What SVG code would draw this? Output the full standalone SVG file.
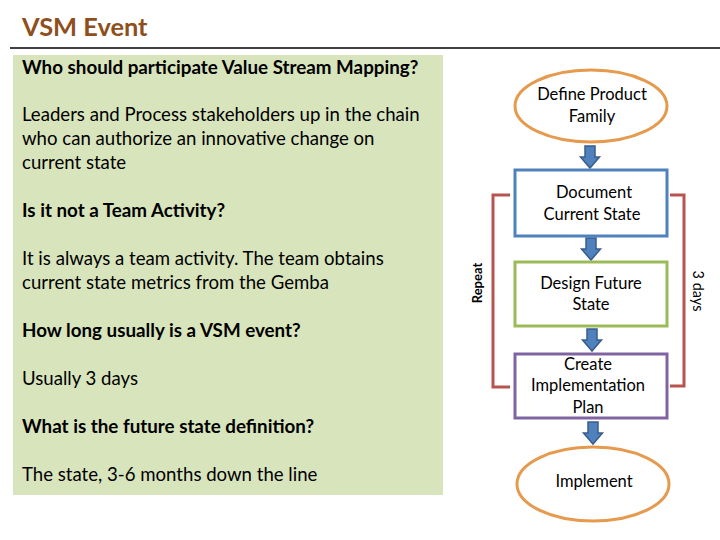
<svg xmlns="http://www.w3.org/2000/svg" width="720" height="540" viewBox="0 0 720 540">
<style>
text{font-family:Lato,"Open Sans","Liberation Sans",sans-serif;fill:#000}
.q{font-weight:bold;font-size:18.8px}
.a{font-size:18.6px}
.n{font-size:16.5px;text-anchor:middle}
.side{font-size:13px;font-weight:bold;text-anchor:middle}
.arr{fill:#4F81BD;stroke:#385D8A;stroke-width:1.5}
.br{fill:none;stroke:#B85450;stroke-width:3}
</style>
<defs>
<path id="ba" d="M-5,0 H5 V11 H9.5 L0,22 L-9.5,11 H-5 Z"/>
</defs>
<rect width="720" height="540" fill="#fff"/>
<text x="22" y="36" style="font-size:25.4px;font-weight:bold;fill:#8E4F1C">VSM Event</text>
<line x1="10" y1="48" x2="720" y2="48" stroke="#000" stroke-width="1.5"/>
<rect x="13" y="55" width="430" height="440" fill="#D8E4BC"/>
<g id="faq">
<text class="q" x="22" y="74">Who should participate Value Stream Mapping?</text>
<text class="a" x="22" y="121">Leaders and Process stakeholders up in the chain</text>
<text class="a" x="22" y="145">who can authorize an innovative change on</text>
<text class="a" x="22" y="169">current state</text>
<text class="q" x="22" y="217">Is it not a Team Activity?</text>
<text class="a" x="22" y="265">It is always a team activity. The team obtains</text>
<text class="a" x="22" y="289">current state metrics from the Gemba</text>
<text class="q" x="22" y="337">How long usually is a VSM event?</text>
<text class="a" x="22" y="385">Usually 3 days</text>
<text class="q" x="22" y="433">What is the future state definition?</text>
<text class="a" x="22" y="481">The state, 3-6 months down the line</text>
</g>
<g id="connectors">
<use href="#ba" class="arr" x="590" y="146"/>
<use href="#ba" class="arr" x="591" y="238"/>
<use href="#ba" class="arr" x="592" y="329"/>
<use href="#ba" class="arr" x="593" y="422"/>
<path class="br" d="M510,195 H493 V387 H510"/>
<path class="br" d="M670,195 H684 V386 H670"/>
<text class="side" transform="translate(482,283) rotate(-90)">Repeat</text>
<text style="font-size:14.5px;text-anchor:middle" transform="translate(693,291) rotate(90)">3 days</text>
</g>
<g id="define">
<ellipse cx="591" cy="106" rx="76" ry="36" fill="#fff" stroke="#E59A4E" stroke-width="3"/>
<text class="n" x="592" y="100">Define Product</text>
<text class="n" x="592" y="122">Family</text>
</g>
<g id="document">
<rect x="515" y="170" width="152" height="66" fill="#fff" stroke="#4F81BD" stroke-width="3"/>
<text class="n" x="594" y="198">Document</text>
<text class="n" x="592" y="220">Current State</text>
</g>
<g id="design">
<rect x="515" y="262" width="152" height="64" fill="#fff" stroke="#9BBB59" stroke-width="3"/>
<text class="n" x="591" y="289">Design Future</text>
<text class="n" x="591" y="310">State</text>
</g>
<g id="plan">
<rect x="515" y="354" width="152" height="64" fill="#fff" stroke="#8064A2" stroke-width="3"/>
<text class="n" x="588" y="370">Create</text>
<text class="n" x="588" y="391">Implementation</text>
<text class="n" x="588" y="413">Plan</text>
</g>
<g id="implement">
<ellipse cx="593" cy="484" rx="76" ry="37" fill="#fff" stroke="#E59A4E" stroke-width="3"/>
<text class="n" x="594" y="487">Implement</text>
</g>
</svg>
